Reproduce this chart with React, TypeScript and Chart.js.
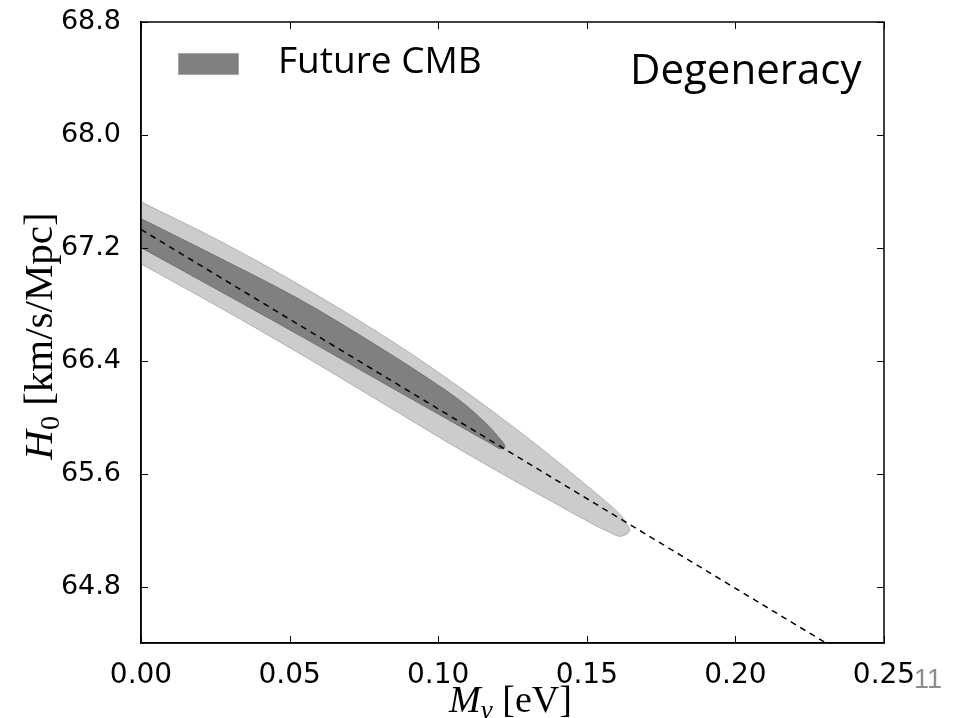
import React, { useEffect, useRef } from "react";
import { Chart, registerables } from "chart.js";

Chart.register(...registerables);

// ---- axis setup ----
const xRange = [0, 0.25];
const yRange = [64.4, 68.8];
const xTicks = [0, 0.05, 0.1, 0.15, 0.2, 0.25];
const yTicks = [64.8, 65.6, 66.4, 67.2, 68.0, 68.8];

// ---- outer (light, 95%) contour: upper edge left->tip, then lower edge tip->left ----
const outerX = [
  -0.02, 0, 0.0266, 0.0535, 0.0838, 0.1073, 0.1275, 0.1376, 0.1544, 0.1612, 0.1635, 0.1644,
  0.1632, 0.1602, 0.1376, 0.1073, 0.0804, 0.0535, 0.0266, 0, -0.02,
];
const outerY = [
  67.745, 67.526, 67.247, 66.935, 66.547, 66.21, 65.895, 65.729, 65.438, 65.311, 65.24, 65.198,
  65.169, 65.159, 65.41, 65.771, 66.111, 66.45, 66.776, 67.087, 67.328,
];

// ---- inner (dark, 68%) contour ----
const innerX = [
  -0.02, 0, 0.0266, 0.0535, 0.0804, 0.0972, 0.1073, 0.1158, 0.1201, 0.1225,
  0.1211, 0.1174, 0.103, 0.0804, 0.0535, 0.0266, 0, -0.02,
];
const innerY = [
  67.611, 67.406, 67.126, 66.833, 66.493, 66.266, 66.118, 65.962, 65.863, 65.792,
  65.775, 65.817, 65.987, 66.256, 66.578, 66.893, 67.201, 67.427,
];

// ---- degeneracy direction (dashed) ----
const degX = [0, 0.2305];
const degY = [67.33, 64.4];

const legendLabels = ["Future CMB"];
const annotationText = "Degeneracy";
const pageNumber = "11";

const toPts = (xs: number[], ys: number[]) => xs.map((x, i) => ({ x, y: ys[i] }));

type Seg = { t: string; size: number; italic?: boolean; dy?: number };

function drawSegs(ctx: CanvasRenderingContext2D, segs: Seg[], family: string) {
  const widths = segs.map((s) => {
    ctx.font = `${s.italic ? "italic " : ""}${s.size}px ${family}`;
    return ctx.measureText(s.t).width;
  });
  const total = widths.reduce((a, b) => a + b, 0);
  let x = -total / 2;
  segs.forEach((s, i) => {
    ctx.font = `${s.italic ? "italic " : ""}${s.size}px ${family}`;
    ctx.fillText(s.t, x, s.dy || 0);
    x += widths[i];
  });
}

const decor = {
  id: "decor",
  afterDraw(chart: any) {
    const { ctx, chartArea: a, scales } = chart;
    ctx.save();
    // frame
    ctx.strokeStyle = "#000";
    ctx.lineWidth = 1.5;
    ctx.strokeRect(a.left, a.top, a.right - a.left, a.bottom - a.top);
    // inward ticks on all four sides
    ctx.lineWidth = 1;
    const tl = 7;
    ctx.beginPath();
    for (const v of xTicks) {
      const px = Math.round(scales.x.getPixelForValue(v)) + 0.5;
      ctx.moveTo(px, a.bottom);
      ctx.lineTo(px, a.bottom - tl);
      ctx.moveTo(px, a.top);
      ctx.lineTo(px, a.top + tl);
    }
    for (const v of yTicks) {
      const py = Math.round(scales.y.getPixelForValue(v)) + 0.5;
      ctx.moveTo(a.left, py);
      ctx.lineTo(a.left + tl, py);
      ctx.moveTo(a.right, py);
      ctx.lineTo(a.right - tl, py);
    }
    ctx.stroke();

    // legend
    const lx = a.left + 37;
    const ly = a.top + 31;
    ctx.fillStyle = "#808080";
    ctx.fillRect(lx, ly, 61, 22);
    ctx.strokeStyle = "#a8a8a8";
    ctx.lineWidth = 1;
    ctx.strokeRect(lx + 0.5, ly + 0.5, 60, 21);
    ctx.fillStyle = "#000";
    ctx.textBaseline = "alphabetic";
    ctx.textAlign = "left";
    ctx.font = '37px "Open Sans"';
    ctx.fillText(legendLabels[0], a.left + 137, a.top + 51);

    // annotation
    ctx.font = '42px "Open Sans"';
    ctx.fillText(annotationText, 630, 84);

    // page number
    ctx.fillStyle = "#8c8c8c";
    ctx.font = '27px "Liberation Sans"';
    ctx.fillText(pageNumber, 914, 688);

    // axis titles
    ctx.fillStyle = "#000";
    const fam = '"Liberation Serif"';
    ctx.save();
    ctx.translate(52, 336);
    ctx.rotate(-Math.PI / 2);
    drawSegs(
      ctx,
      [
        { t: "H", size: 41, italic: true },
        { t: "0", size: 28, dy: 7 },
        { t: " [km/s/Mpc]", size: 41 },
      ],
      fam
    );
    ctx.restore();

    ctx.save();
    ctx.translate((a.left + a.right) / 2 - 2, 712);
    drawSegs(
      ctx,
      [
        { t: "M", size: 38, italic: true },
        { t: "ν", size: 27, italic: true, dy: 7 },
        { t: " [eV]", size: 38 },
      ],
      fam
    );
    ctx.restore();

    ctx.restore();
  },
};

export default function App() {
  const ref = useRef<HTMLCanvasElement | null>(null);
  useEffect(() => {
    if (!ref.current) return;
    const chart = new Chart(ref.current, {
      type: "line",
      data: {
        datasets: [
          {
            label: "degeneracy",
            data: toPts(degX, degY),
            borderColor: "#000",
            borderWidth: 1.5,
            borderDash: [6, 5],
            pointRadius: 0,
            fill: false,
            clip: 0,
          } as any,
          {
            label: legendLabels[0] + " 68%",
            data: toPts(innerX, innerY),
            borderColor: "#727272",
            backgroundColor: "#808080",
            borderWidth: 1,
            pointRadius: 0,
            tension: 0.35,
            fill: "shape",
            clip: 0,
          } as any,
          {
            label: legendLabels[0] + " 95%",
            data: toPts(outerX, outerY),
            borderColor: "#b0b0b0",
            backgroundColor: "#cccccc",
            borderWidth: 1,
            pointRadius: 0,
            tension: 0.35,
            fill: "shape",
            clip: 0,
          } as any,
        ],
      },
      options: {
        animation: false,
        responsive: false,
        devicePixelRatio: 1,
        layout: { padding: { top: 22, right: 77, left: 0, bottom: 0 } },
        plugins: {
          legend: { display: false },
          tooltip: { enabled: false },
        },
        scales: {
          x: {
            type: "linear",
            position: "bottom",
            min: xRange[0],
            max: xRange[1],
            afterBuildTicks: (s: any) => {
              s.ticks = xTicks.map((v) => ({ value: v }));
            },
            afterFit: (s: any) => {
              s.height = 75;
              s.paddingLeft = 0;
              s.paddingRight = 0;
            },
            grid: { display: false },
            border: { display: true, color: "#000", width: 1.5 },
            ticks: {
              color: "#000",
              padding: 8,
              maxRotation: 0,
              font: { family: '"DejaVu Sans"', size: 28 },
              callback: (v: any) => Number(v).toFixed(2),
            },
          },
          y: {
            type: "linear",
            position: "left",
            min: yRange[0],
            max: yRange[1],
            afterBuildTicks: (s: any) => {
              s.ticks = yTicks.map((v) => ({ value: v }));
            },
            afterFit: (s: any) => {
              s.width = 141;
              s.paddingTop = 0;
              s.paddingBottom = 0;
            },
            grid: { display: false },
            border: { display: true, color: "#000", width: 1.5 },
            ticks: {
              color: "#000",
              padding: 12,
              font: { family: '"DejaVu Sans"', size: 27 },
              callback: (v: any) => Number(v).toFixed(1),
            },
          },
        },
      },
      plugins: [decor],
    });
    return () => chart.destroy();
  }, []);

  return (
    <div style={{ position: "fixed", left: 0, top: 0, width: 961, height: 718, background: "#fff" }}>
      <canvas ref={ref} width={961} height={718} style={{ display: "block", width: 961, height: 718 }} />
    </div>
  );
}
